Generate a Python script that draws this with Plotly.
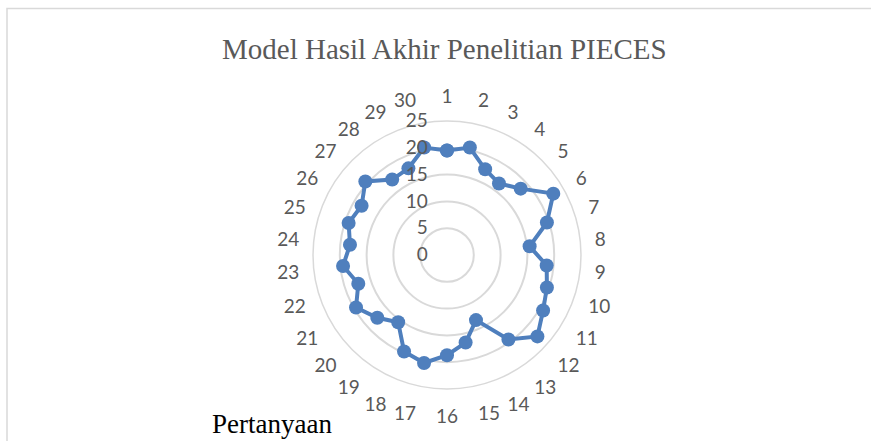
import plotly.graph_objects as go

categories = [str(i) for i in range(1, 31)]
values = [19.5, 20.5, 17.5, 16.5, 18.5, 22.9, 19.6, 15.5, 18.7, 19.6,
          20.7, 22.7, 19.5, 13.3, 16.7, 18.7, 20.6, 19.7, 15.5, 17.5,
          19.6, 17.4, 19.5, 18.2, 19.3, 18.4, 20.5, 17.4, 17.7, 20.5]
radial_ticks = [0, 5, 10, 15, 20, 25]
title_text = "Model Hasil Akhir Penelitian PIECES"
series_name = "Pertanyaan"

W, H = 871, 441
cx, cy, R = 447, 255, 134
label_font = dict(family="Lato, Liberation Sans, sans-serif", size=19, color="#595959")

fig = go.Figure()
fig.add_trace(go.Scatterpolar(
    r=values + values[:1],
    theta=categories + categories[:1],
    mode="lines+markers",
    line=dict(color="#4F7FBD", width=4),
    marker=dict(color="#4F7FBD", size=14),
    name=series_name,
    showlegend=False,
))

fig.update_layout(
    width=W, height=H,
    margin=dict(l=0, r=0, t=0, b=0),
    paper_bgcolor="white",
    plot_bgcolor="white",
    polar=dict(
        domain=dict(x=[(cx - R) / W, (cx + R) / W],
                    y=[(H - cy - R) / H, (H - cy + R) / H]),
        bgcolor="white",
        angularaxis=dict(
            type="category",
            categoryarray=categories,
            direction="clockwise",
            rotation=90,
            showgrid=False,
            showline=True,
            linecolor="#D9D9D9",
            linewidth=1.5,
            ticks="outside",
            ticklen=10,
            tickcolor="rgba(0,0,0,0)",
            tickfont=label_font,
        ),
        radialaxis=dict(
            range=[0, 25],
            tickvals=radial_ticks,
            angle=90,
            tickangle=90,
            side="counterclockwise",
            showline=False,
            gridcolor="#D9D9D9",
            gridwidth=1.5,
            ticks="outside",
            ticklen=12,
            tickcolor="rgba(0,0,0,0)",
            tickfont=label_font,
        ),
    ),
    annotations=[
        dict(text=title_text, x=445 / W, y=1 - 49 / H, xref="paper", yref="paper",
             xanchor="center", yanchor="middle", showarrow=False,
             font=dict(family="Liberation Serif, Times New Roman, serif", size=29, color="#595959")),
        dict(text=series_name, x=210 / W, y=1 - 424 / H, xref="paper", yref="paper",
             xanchor="left", yanchor="middle", showarrow=False,
             font=dict(family="Liberation Serif, Times New Roman, serif", size=27, color="black")),
    ],
    shapes=[
        dict(type="rect", xref="paper", yref="paper",
             x0=7 / W, x1=1.02, y0=-0.02, y1=1 - 8.5 / H,
             line=dict(color="#D9D9D9", width=1.5), fillcolor="rgba(0,0,0,0)", layer="below"),
    ],
)

fig.write_html("out.html", config={"displayModeBar": False},
               post_script="document.body.style.margin='0px';")
